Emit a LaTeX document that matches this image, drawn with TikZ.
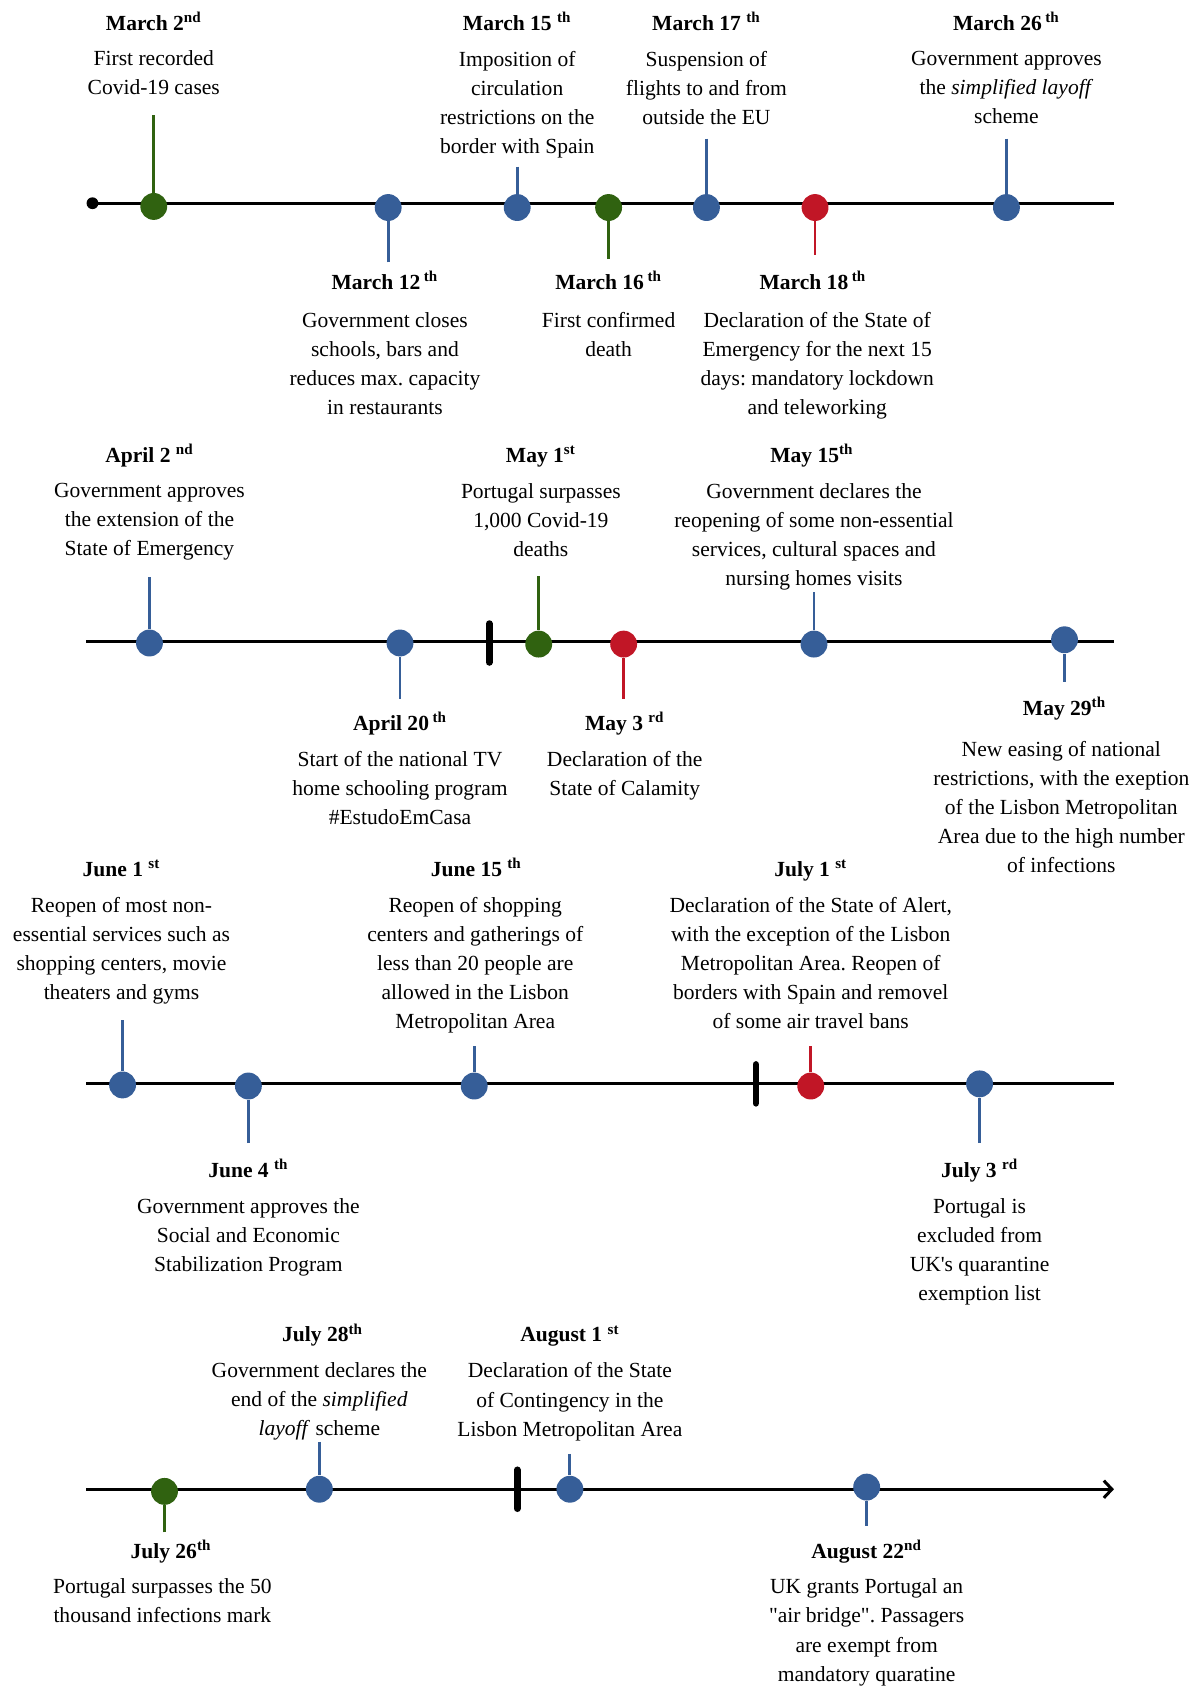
\documentclass[tikz,border=0pt]{standalone}
\usepackage{fontspec}
\setmainfont{Liberation Serif}[Ligatures=TeXOff]
\usepackage{tikz}
\usetikzlibrary{arrows.meta}
\definecolor{tlblue}{RGB}{54,94,152}
\definecolor{tlgreen}{RGB}{48,98,16}
\definecolor{tlred}{RGB}{193,22,38}
\frenchspacing

\begin{document}
\begin{tikzpicture}[x=0.02cm, y=-0.02cm,
  axis/.style={line width=1.6pt},
  stem/.style={line width=1.5pt},
  dot/.style={circle, minimum size=0.5cm, inner sep=0pt},
  tickmark/.style={line width=3.6pt, line cap=round},
  datetext/.style={font=\fontsize{11.4}{15.4}\selectfont\bfseries, anchor=base, inner sep=0pt},
  eventtext/.style={font=\fontsize{11.4}{15.4}\selectfont, align=center, anchor=north, inner sep=0pt}
]
\useasboundingbox (0,0) rectangle (1118,1568);

%% Time axes (four rows)
\node[circle, fill=black, minimum size=0.22cm, inner sep=0pt] (r1a) at (86,189) {};
\coordinate (r1b) at (1036,189);
\coordinate (r2a) at (80,597);   \coordinate (r2b) at (1036,597);
\coordinate (r3a) at (80,1008);  \coordinate (r3b) at (1036,1008);
\coordinate (r4a) at (80,1385);  \coordinate (r4b) at (1036,1385);
\draw[axis] (r1a.center) -- (r1b);
\draw[axis] (r2a) -- (r2b);
\draw[axis] (r3a) -- (r3b);
\draw[axis, -{Straight Barb[length=1.5mm, width=3.2mm]}] (r4a) -- (r4b);

%% Month separators
\foreach \n/\x/\ya/\yb in {t1/455/580/616, t2/703/990/1026, t3/481/1367/1403} {
  \coordinate (\n a) at (\x,\ya);
  \coordinate (\n b) at (\x,\yb);
  \draw[tickmark] (\n a) -- (\n b);
}

%% Event dots with stems
\foreach \n/\x/\y/\c/\s in {
  m2/143/192/tlgreen/107, m12/361/193/tlblue/244, m15/481/193/tlblue/155,
  m16/566/193/tlgreen/241, m17/657/193/tlblue/129, m18/758/193/tlred/237,
  m26/936/193/tlblue/129,
  a2/139/598/tlblue/537, a20/372/598/tlblue/650, y1/501/599/tlgreen/536,
  y3/580/599/tlred/650, y15/757/599/tlblue/551, y29/990/595/tlblue/634,
  j1/114/1009/tlblue/949, j4/231/1010/tlblue/1063, j15/441/1010/tlblue/973,
  l1/754/1010/tlred/973, l3/911/1008/tlblue/1063,
  l26/153/1387/tlgreen/1425, l28/297/1385/tlblue/1341, g1/530/1385/tlblue/1352,
  g22/806/1383/tlblue/1419} {
  \coordinate (\n s) at (\x,\s);
  \node[dot, fill=\c] (\n) at (\x,\y) {};
  \draw[stem, draw=\c] (\n s) -- (\n);
}

%% March
\node[datetext] (m2t) at (143,28) {March 2\textsuperscript{nd}};
\node[eventtext] (m2d) at (143,47) {First recorded\\Covid-19 cases};
\node[datetext] (m15t) at (481,28) {March 15 \textsuperscript{th}};
\node[eventtext] (m15d) at (481,47) {Imposition of\\circulation\\restrictions on the\\border with Spain};
\node[datetext] (m17t) at (657,28) {March 17 \textsuperscript{th}};
\node[eventtext] (m17d) at (657,47) {Suspension of\\flights to and from\\outside the EU};
\node[datetext] (m26t) at (936,28) {March 26\,\textsuperscript{th}};
\node[eventtext] (m26d) at (936,47) {Government approves\\the \textit{simplified layoff}\\scheme};
\node[datetext] (m12t) at (358,269) {March 12\,\textsuperscript{th}};
\node[eventtext] (m12d) at (358,290) {Government closes\\schools, bars and\\reduces max. capacity\\in restaurants};
\node[datetext] (m16t) at (566,269) {March 16\,\textsuperscript{th}};
\node[eventtext] (m16d) at (566,290) {First confirmed\\death};
\node[datetext] (m18t) at (756,269) {March 18\,\textsuperscript{th}};
\node[eventtext] (m18d) at (760,290) {Declaration of the State of\\Emergency for the next 15\\days: mandatory lockdown\\and teleworking};

%% April - May
\node[datetext] (a2t) at (139,430) {April 2 \textsuperscript{nd}};
\node[eventtext] (a2d) at (139,449) {Government approves\\the extension of the\\State of Emergency};
\node[datetext] (y1t) at (503,430) {May 1\textsuperscript{st}};
\node[eventtext] (y1d) at (503,449) {Portugal surpasses\\1,000 Covid-19\\deaths};
\node[datetext] (y15t) at (755,430) {May 15\textsuperscript{th}};
\node[eventtext] (y15d) at (757,449) {Government declares the\\reopening of some non-essential\\services, cultural spaces and\\nursing homes visits};
\node[datetext] (a20t) at (372,679) {April 20\,\textsuperscript{th}};
\node[eventtext] (a20d) at (372,698) {Start of the national TV\\home schooling program\\\#EstudoEmCasa};
\node[datetext] (y3t) at (581,679) {May 3 \textsuperscript{rd}};
\node[eventtext] (y3d) at (581,698) {Declaration of the\\State of Calamity};
\node[datetext] (y29t) at (990,665) {May 29\textsuperscript{th}};
\node[eventtext] (y29d) at (987,689) {New easing of national\\restrictions, with the exeption\\of the Lisbon Metropolitan\\Area due to the high number\\of infections};

%% June - July
\node[datetext] (j1t) at (113,815) {June 1 \textsuperscript{st}};
\node[eventtext] (j1d) at (113,834) {Reopen of most non-\\essential services such as\\shopping centers, movie\\theaters and gyms};
\node[datetext] (j15t) at (443,815) {June 15 \textsuperscript{th}};
\node[eventtext] (j15d) at (442,834) {Reopen of shopping\\centers and gatherings of\\less than 20 people are\\allowed in the Lisbon\\Metropolitan Area};
\node[datetext] (l1t) at (754,815) {July 1 \textsuperscript{st}};
\node[eventtext] (l1d) at (754,834) {Declaration of the State of Alert,\\with the exception of the Lisbon\\Metropolitan Area. Reopen of\\borders with Spain and removel\\of some air travel bans};
\node[datetext] (j4t) at (231,1095) {June 4 \textsuperscript{th}};
\node[eventtext] (j4d) at (231,1114) {Government approves the\\Social and Economic\\Stabilization Program};
\node[datetext] (l3t) at (911,1095) {July 3 \textsuperscript{rd}};
\node[eventtext] (l3d) at (911,1114) {Portugal is\\excluded from\\UK's quarantine\\exemption list};

%% July - August
\node[datetext] (l28t) at (300,1248) {July 28\textsuperscript{th}};
\node[eventtext] (l28d) at (297,1267) {Government declares the\\end of the \textit{simplified}\\\textit{layoff} scheme};
\node[datetext] (g1t) at (530,1248) {August 1 \textsuperscript{st}};
\node[eventtext] (g1d) at (530,1267) {Declaration of the State\\of Contingency in the\\Lisbon Metropolitan Area};
\node[datetext] (l26t) at (159,1449) {July 26\textsuperscript{th}};
\node[eventtext] (l26d) at (151,1468) {Portugal surpasses the 50\\thousand infections mark};
\node[datetext] (g22t) at (806,1449) {August 22\textsuperscript{nd}};
\node[eventtext] (g22d) at (806,1468) {UK grants Portugal an\\"air bridge". Passagers\\are exempt from\\mandatory quaratine};
\end{tikzpicture}
\end{document}
